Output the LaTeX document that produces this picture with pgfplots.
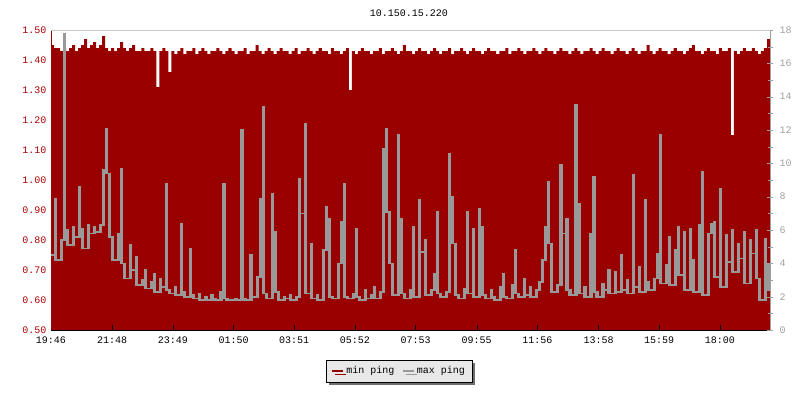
\documentclass[border=0pt]{standalone}
\usepackage{pgfplots}
\pgfplotsset{compat=1.18}
\usepackage{pgfplotstable}
\usepackage{fontspec}
\setmainfont{Liberation Mono}
\usetikzlibrary{shadows}

\definecolor{minred}{HTML}{990000}
\definecolor{labred}{HTML}{AA0000}
\definecolor{maxgray}{HTML}{999999}
\definecolor{framegray}{HTML}{C8C8C8}
\definecolor{axgray}{HTML}{A0A0A0}
\definecolor{legfill}{HTML}{E8E8E8}
\definecolor{shadowgray}{HTML}{6E6E6E}

% one value every 6 minutes, starting 19:46
\pgfplotstableread[row sep=\\]{
v\\
1.45\\1.44\\1.44\\1.43\\1.44\\1.43\\1.44\\1.45\\1.43\\1.44\\
1.45\\1.47\\1.44\\1.45\\1.46\\1.44\\1.45\\1.48\\1.44\\1.43\\
1.44\\1.43\\1.44\\1.46\\1.44\\1.43\\1.44\\1.45\\1.43\\1.43\\
1.44\\1.43\\1.43\\1.44\\1.43\\1.31\\1.43\\1.44\\1.43\\1.36\\
1.43\\1.42\\1.43\\1.44\\1.42\\1.43\\1.43\\1.44\\1.42\\1.43\\
1.44\\1.43\\1.42\\1.43\\1.43\\1.44\\1.43\\1.42\\1.43\\1.44\\
1.43\\1.42\\1.43\\1.43\\1.44\\1.42\\1.43\\1.43\\1.45\\1.43\\
1.42\\1.43\\1.44\\1.43\\1.42\\1.43\\1.44\\1.43\\1.43\\1.42\\
1.43\\1.44\\1.42\\1.43\\1.43\\1.44\\1.43\\1.42\\1.43\\1.44\\
1.43\\1.43\\1.42\\1.44\\1.43\\1.43\\1.42\\1.43\\1.44\\1.30\\
1.43\\1.42\\1.43\\1.44\\1.43\\1.43\\1.42\\1.43\\1.43\\1.44\\
1.42\\1.43\\1.43\\1.44\\1.43\\1.42\\1.43\\1.45\\1.43\\1.43\\
1.42\\1.43\\1.44\\1.43\\1.43\\1.42\\1.43\\1.44\\1.43\\1.42\\
1.43\\1.43\\1.44\\1.42\\1.43\\1.43\\1.44\\1.43\\1.42\\1.43\\
1.44\\1.43\\1.43\\1.42\\1.43\\1.44\\1.43\\1.43\\1.42\\1.43\\
1.43\\1.44\\1.42\\1.43\\1.43\\1.44\\1.43\\1.42\\1.43\\1.43\\
1.44\\1.43\\1.42\\1.43\\1.44\\1.43\\1.43\\1.42\\1.43\\1.44\\
1.43\\1.43\\1.42\\1.43\\1.44\\1.43\\1.42\\1.43\\1.43\\1.44\\
1.43\\1.42\\1.43\\1.44\\1.43\\1.43\\1.42\\1.43\\1.44\\1.43\\
1.43\\1.42\\1.43\\1.44\\1.43\\1.42\\1.43\\1.43\\1.45\\1.43\\
1.42\\1.43\\1.44\\1.43\\1.43\\1.42\\1.43\\1.44\\1.43\\1.43\\
1.42\\1.43\\1.44\\1.45\\1.43\\1.43\\1.42\\1.43\\1.44\\1.43\\
1.43\\1.42\\1.44\\1.43\\1.43\\1.44\\1.15\\1.43\\1.42\\1.43\\
1.44\\1.43\\1.43\\1.44\\1.43\\1.42\\1.43\\1.44\\1.47\\1.43\\1.43\\
}\minping

\pgfplotstableread[row sep=\\]{
v\\
4.5\\7.9\\4.2\\5.4\\17.8\\6.0\\5.1\\6.2\\5.6\\8.6\\
6.1\\4.9\\6.3\\5.8\\6.2\\5.9\\6.3\\9.6\\12.1\\9.4\\
5.6\\4.2\\5.8\\9.7\\4.0\\3.1\\5.1\\3.6\\4.4\\2.7\\
3.0\\3.6\\2.5\\2.9\\3.4\\2.3\\3.1\\2.6\\8.8\\2.4\\
2.2\\2.6\\2.1\\6.4\\2.3\\2.0\\4.9\\2.1\\1.9\\2.2\\
1.8\\2.0\\1.8\\2.1\\1.9\\1.8\\2.3\\8.8\\1.9\\1.8\\
1.8\\1.9\\1.8\\12.0\\1.9\\1.8\\4.5\\2.0\\3.2\\7.9\\
13.4\\2.2\\1.9\\8.2\\5.9\\2.3\\1.8\\2.0\\1.9\\2.1\\
1.8\\2.0\\9.1\\7.0\\12.4\\2.2\\5.2\\1.9\\2.1\\1.8\\
4.8\\7.4\\6.7\\2.0\\1.9\\4.0\\6.5\\8.8\\2.0\\1.9\\
2.2\\6.1\\2.0\\1.8\\2.4\\1.9\\2.1\\2.6\\1.9\\2.3\\
10.9\\12.1\\7.1\\4.0\\2.1\\11.7\\6.7\\2.2\\1.9\\2.4\\
6.2\\2.0\\7.8\\4.7\\5.4\\2.1\\2.4\\3.4\\7.1\\2.2\\
2.0\\2.3\\10.6\\8.0\\5.2\\2.1\\1.9\\2.5\\7.1\\2.2\\
6.1\\2.0\\7.3\\6.2\\2.1\\1.9\\2.4\\2.0\\1.8\\2.6\\
3.4\\2.0\\1.9\\2.7\\4.8\\2.2\\2.0\\3.1\\2.1\\2.6\\
2.0\\2.4\\2.9\\4.2\\6.2\\8.9\\5.2\\2.3\\2.7\\9.9\\
5.8\\6.7\\2.4\\2.1\\13.5\\7.6\\2.2\\2.6\\2.0\\5.8\\
9.2\\2.3\\2.0\\2.8\\2.4\\3.6\\2.2\\3.5\\2.3\\4.5\\
2.4\\3.0\\2.2\\9.3\\2.6\\3.8\\2.3\\7.8\\2.9\\2.4\\
3.1\\4.6\\11.7\\2.8\\3.9\\5.6\\2.7\\4.8\\6.2\\3.3\\
5.9\\2.4\\6.1\\4.2\\2.3\\6.3\\9.5\\2.1\\5.8\\6.4\\
6.5\\3.2\\8.5\\2.6\\5.7\\4.1\\6.0\\3.5\\5.2\\4.3\\
5.9\\2.8\\5.4\\4.6\\6.0\\3.1\\1.8\\5.5\\3.9\\2.4\\4.8\\
}\maxping

% lowest of each sample and its neighbours, so every 6-minute column
% of the max ping trace is filled like a step line drawn per pixel
\pgfplotstablecreatecol[create col/assign/.code={%
    \getthisrow{v}\cur
    \getprevrow{v}\prv \edef\prv{\prv}%
    \getnextrow{v}\nxt \edef\nxt{\nxt}%
    \ifx\prv\empty \let\prv\cur \fi
    \ifx\nxt\empty \let\nxt\cur \fi
    \pgfmathsetmacro\lo{min(\cur,\prv,\nxt)}%
    \pgfkeyslet{/pgfplots/table/create col/next content}\lo
  }]{lo}\maxping

\begin{document}
\begin{tikzpicture}
\path[use as bounding box] (0pt,0pt) rectangle (800pt,400pt);
\node[font=\fontsize{10}{12}\selectfont] at (409pt,387pt) {10.150.15.220};

\begin{axis}[
    at={(51pt,70pt)}, anchor=south west,
    scale only axis, width=719pt, height=300pt,
    xmin=0, xmax=1434, ymin=0.5, ymax=1.5,
    axis x line*=bottom, axis y line*=left,
    axis on top,
    x axis line style={black},
    y axis line style={minred},
    tick align=inside,
    major tick length=5pt,
    xtick={0,122,243,364,485,606,727,849,970,1092,1213,1334},
    xticklabels={19:46,21:48,23:49,01:50,03:51,05:52,07:53,09:55,11:56,13:58,15:59,18:00},
    xtick style={black},
    xticklabel style={yshift=-3pt},
    ytick={0.5,0.6,0.7,0.8,0.9,1.0,1.1,1.2,1.3,1.4,1.5},
    ytick style={minred},
    yticklabel style={text=labred, xshift=-1pt},
    tick label style={font=\fontsize{10}{12}\selectfont},
    /pgf/number format/.cd, fixed, fixed zerofill, precision=2, assume math mode=true,
  ]
  \addplot[const plot, fill=minred, draw=none]
    table[x expr=\coordindex*6, y=v] {\minping} \closedcycle;
\end{axis}

\begin{axis}[
    at={(51pt,70pt)}, anchor=south west,
    scale only axis, width=719pt, height=300pt,
    xmin=0, xmax=1434, ymin=0, ymax=18,
    axis x line=none, axis y line*=right,
    y axis line style={axgray},
    ytick={0,2,...,18},
    minor ytick={1,3,...,17},
    tick align=center,
    major tick length=6pt, minor tick length=5pt,
    ytick style={axgray}, minor tick style={axgray},
    yticklabel style={text=axgray, font=\fontsize{10}{12}\selectfont, xshift=3pt},
    /pgf/number format/assume math mode=true,
    legend columns=2,
    legend style={at={(0.484,-0.137)}, anchor=center,
      draw=black, fill=legfill, inner xsep=5pt, inner ysep=5pt,
      font=\fontsize{10}{12}\selectfont,
      drop shadow={shadow xshift=3pt, shadow yshift=-3pt, fill=shadowgray, opacity=1},
      /tikz/every even column/.append style={column sep=5pt}},
    legend image code/.code={\draw[#1, line width=2.5pt] (0pt,0pt) -- (11pt,0pt);},
  ]
  \addlegendimage{minred}
  \addlegendentry{min ping}
  \addlegendimage{maxgray}
  \addlegendentry{max ping\hspace{12pt}}
  \addplot[only marks, mark=*, mark size=0pt, mark options={draw=none, fill=none}, forget plot,
      error bars/.cd, y dir=minus, y explicit, error mark=none,
      error bar style={draw=maxgray, line width=3.15pt}]
    table[x expr=\coordindex*6+3, y expr=\thisrow{v}+0.05,
          y error minus expr=\thisrow{v}-\thisrow{lo}+0.1] {\maxping};
  \draw[framegray] (rel axis cs:0,1) -- (rel axis cs:1,1);
\end{axis}
\end{tikzpicture}
\end{document}
